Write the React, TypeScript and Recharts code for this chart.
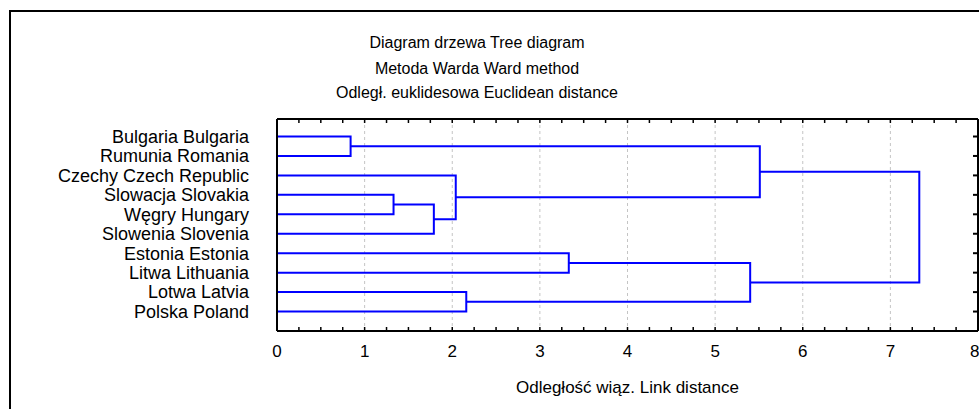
import { LineChart, Line, XAxis, YAxis, CartesianGrid } from 'recharts';

const countries = [
  'Bulgaria Bulgaria',
  'Rumunia Romania',
  'Czechy Czech Republic',
  'Slowacja Slovakia',
  'Węgry Hungary',
  'Slowenia Slovenia',
  'Estonia Estonia',
  'Litwa Lithuania',
  'Lotwa Latvia',
  'Polska Poland',
];

// merge k creates cluster id 10 + k; ids below 10 are countries
const mergeLeft = [0, 3, 11, 2, 10, 6, 8, 15, 14];
const mergeRight = [1, 4, 5, 12, 13, 7, 9, 16, 17];
const mergeHeight = [0.84, 1.33, 1.79, 2.04, 5.51, 3.33, 2.16, 5.4, 7.33];

const distanceTicks = [0, 1, 2, 3, 4, 5, 6, 7, 8];
const minorTicks = distanceTicks.flatMap((t) => (t < 8 ? [t, t + 0.25, t + 0.5, t + 0.75] : [t]));
const rowTicks = countries.map((_, i) => i);

const titles = [
  'Diagram drzewa Tree diagram',
  'Metoda Warda Ward method',
  'Odległ. euklidesowa Euclidean distance',
];

const FONT = '"Liberation Sans", Arial, sans-serif';

function buildLinks() {
  const pos: number[] = countries.map((_, i) => i);
  const level: number[] = countries.map(() => 0);
  return mergeHeight.map((h, k) => {
    const a = mergeLeft[k];
    const b = mergeRight[k];
    const seg = [
      { d: level[a], row: pos[a] },
      { d: h, row: pos[a] },
      { d: h, row: pos[b] },
      { d: level[b], row: pos[b] },
    ];
    pos.push((pos[a] + pos[b]) / 2);
    level.push(h);
    return seg;
  });
}

const links = buildLinks();

const noLabel = () => <g />;

export default function App() {
  return (
    <div
      style={{
        position: 'absolute',
        left: 0,
        top: 0,
        width: 979,
        height: 409,
        overflow: 'hidden',
        background: '#fff',
        fontFamily: FONT,
      }}
    >
      <div
        style={{
          position: 'absolute',
          left: 9,
          top: 10,
          width: 1100,
          height: 600,
          border: '2px solid #000',
        }}
      />
      {titles.map((t, i) => (
        <div
          key={t}
          style={{
            position: 'absolute',
            left: 0,
            width: 954,
            top: [34, 60, 84][i],
            lineHeight: '18px',
            fontSize: 16,
            textAlign: 'center',
            color: '#000',
          }}
        >
          {t}
        </div>
      ))}
      <div style={{ position: 'absolute', left: 0, top: 0 }}>
        <LineChart width={979} height={409} margin={{ top: 119, right: 1, bottom: 0, left: 0 }}>
          <CartesianGrid
            xAxisId="b"
            yAxisId="l"
            horizontal={false}
            stroke="#c4c4c4"
            strokeDasharray="3 3"
          />
          <XAxis
            xAxisId="b"
            type="number"
            dataKey="d"
            domain={[0, 8]}
            ticks={distanceTicks}
            allowDataOverflow
            height={78}
            tickLine={false}
            tickMargin={8}
            axisLine={{ stroke: '#000', strokeWidth: 2 }}
            tick={{ fill: '#000', fontSize: 17, fontFamily: FONT }}
            label={{
              value: 'Odległość wiąz. Link distance',
              position: 'insideBottom',
              offset: 16,
              fill: '#000',
              fontSize: 17,
              fontFamily: FONT,
            }}
          />
          <XAxis
            xAxisId="bm"
            type="number"
            dataKey="d"
            orientation="bottom"
            mirror
            domain={[0, 8]}
            allowDataOverflow
            ticks={minorTicks}
            interval={0}
            tick={noLabel}
            tickSize={4}
            axisLine={false}
            tickLine={{ stroke: '#000', strokeWidth: 1.5 }}
          />
          <XAxis
            xAxisId="t"
            type="number"
            dataKey="d"
            orientation="top"
            mirror
            domain={[0, 8]}
            allowDataOverflow
            ticks={minorTicks}
            interval={0}
            tick={noLabel}
            tickSize={4}
            axisLine={{ stroke: '#000', strokeWidth: 2 }}
            tickLine={{ stroke: '#000', strokeWidth: 1.5 }}
          />
          <YAxis
            yAxisId="l"
            type="number"
            dataKey="row"
            domain={[-0.9, 10]}
            allowDataOverflow
            reversed
            ticks={rowTicks}
            interval={0}
            width={277}
            tickLine={false}
            tickSize={0}
            tickMargin={28}
            axisLine={{ stroke: '#000', strokeWidth: 2 }}
            tickFormatter={(v: number) => countries[v] ?? ''}
            tick={{ fill: '#000', fontSize: 18, fontFamily: FONT }}
          />
          <YAxis
            yAxisId="r"
            type="number"
            dataKey="row"
            orientation="right"
            mirror
            domain={[-0.9, 10]}
            allowDataOverflow
            reversed
            ticks={rowTicks}
            interval={0}
            tick={noLabel}
            tickSize={5}
            axisLine={{ stroke: '#000', strokeWidth: 2 }}
            tickLine={{ stroke: '#000', strokeWidth: 2 }}
          />
          {/* invisible copies so the decorative tick axes get a scale */}
          <Line xAxisId="t" yAxisId="r" data={links[8]} dataKey="row" stroke="none" dot={false} activeDot={false} isAnimationActive={false} />
          <Line xAxisId="bm" yAxisId="r" data={links[8]} dataKey="row" stroke="none" dot={false} activeDot={false} isAnimationActive={false} />
          {links.map((seg, i) => (
            <Line
              key={i}
              xAxisId="b"
              yAxisId="l"
              data={seg}
              dataKey="row"
              type="linear"
              stroke="#0000ff"
              strokeWidth={2}
              dot={false}
              activeDot={false}
              isAnimationActive={false}
            />
          ))}
        </LineChart>
      </div>
    </div>
  );
}
